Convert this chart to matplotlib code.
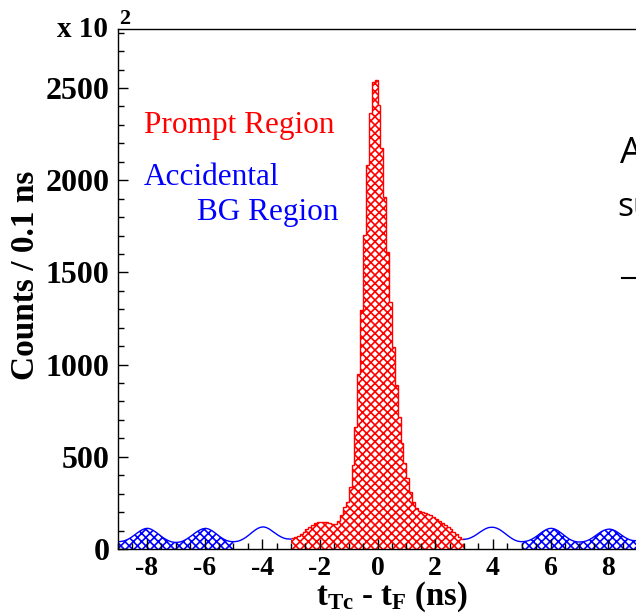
import numpy as np
import matplotlib
matplotlib.use("Agg")
import matplotlib.pyplot as plt
from matplotlib.lines import Line2D

plt.rcParams["font.family"] = ["Liberation Serif", "DejaVu Serif"]
plt.rcParams["axes.unicode_minus"] = False
plt.rcParams["mathtext.fontset"] = "custom"
plt.rcParams["mathtext.rm"] = "Liberation Serif:bold"
plt.rcParams["mathtext.it"] = "Liberation Serif:bold"
plt.rcParams["mathtext.bf"] = "Liberation Serif:bold"
plt.rcParams["hatch.linewidth"] = 1.2

# Zaehlraten pro 0.1 ns Bin
# Untergrund links: -9 ... -3 ns
bg_left = [40, 42, 46, 53, 62, 73, 85, 96, 105, 111, 112, 107, 98, 87, 75, 63, 53, 45, 39, 36,
           36, 38, 43, 51, 61, 72, 84, 95, 104, 110, 112, 108, 100, 89, 77, 65, 55, 47, 42, 40,
           40, 42, 47, 55, 65, 77, 90, 102, 112, 118, 120, 116, 108, 97, 86, 75, 66, 59, 55, 54]
# Prompt-Bereich: -3 ... 3 ns
prompt = [58, 64, 72, 82, 94, 106, 118, 130, 140, 146,
          148, 147, 144, 140, 137, 138, 150, 184, 229, 256,
          338, 455, 663, 949, 1296, 1703, 2082, 2366, 2535, 2543,
          2408, 2173, 1911, 1611, 1341, 1095, 890, 717, 573, 465,
          383, 311, 256, 220, 208, 203, 197, 190, 182, 173,
          164, 153, 142, 130, 118, 106, 94, 80, 66, 55]
# Untergrund rechts: 3 ... 9 ns
bg_right = [53, 56, 62, 70, 80, 91, 101, 110, 116, 118, 117, 112, 104, 93, 81, 69, 58, 49, 43, 40,
            40, 42, 46, 53, 62, 73, 85, 96, 105, 111, 112, 108, 100, 89, 77, 65, 54, 46, 41, 38,
            38, 40, 44, 51, 60, 71, 82, 93, 101, 106, 108, 105, 98, 88, 77, 66, 57, 50, 46, 45]

edges_left = np.linspace(-9, -3, 61)
edges_prompt = np.linspace(-3, 3, 61)
edges_right = np.linspace(3, 9, 61)

y_ticks = [0, 500, 1000, 1500, 2000, 2500]
x_ticks = [-8, -6, -4, -2, 0, 2, 4, 6, 8]

fig = plt.figure(figsize=(6.36, 6.13), dpi=100)
W, H = 636, 613
ax = fig.add_axes([118 / W, 64 / H, 519 / W, 520 / H])


def bg_curve(values, edges):
    centers = 0.5 * (edges[:-1] + edges[1:])
    x = np.concatenate([[edges[0]], centers, [edges[-1]]])
    y = np.concatenate([[values[0]], values, [values[-1]]])
    return x, y


def bg_fill(x, y, lo, hi):
    m = (x >= lo) & (x <= hi)
    xs = np.concatenate([[lo], x[m], [hi]])
    ys = np.concatenate([[np.interp(lo, x, y)], y[m], [np.interp(hi, x, y)]])
    ax.fill_between(xs, ys, 0, facecolor="none", edgecolor="#0000ff",
                    hatch="xxxx", linewidth=0)


xl, yl = bg_curve(np.array(bg_left, float), edges_left)
xr, yr = bg_curve(np.array(bg_right, float), edges_right)

# Accidental BG Bereiche schraffiert
bg_fill(xl, yl, -9, -5)
bg_fill(xr, yr, 5, 9)
ax.plot(xl, yl, color="#0000ff", lw=1.0)
ax.plot(xr, yr, color="#0000ff", lw=1.0)

# Prompt-Bereich
p = np.array(prompt, float)
ax.fill_between(edges_prompt, np.append(p, p[-1]), 0, step="post",
                facecolor="none", edgecolor="#ff0000", hatch="xxxx", linewidth=0)
ax.stairs(p, edges_prompt, color="#ff0000", lw=1.0, baseline=None)

ax.set_xlim(-9, 9)
ax.set_ylim(0, 2820)
ax.set_xticks(x_ticks)
ax.set_xticklabels([str(v) for v in x_ticks])
ax.set_xticks(np.arange(-9, 9.01, 0.5), minor=True)
ax.set_yticks(y_ticks)
ax.set_yticklabels([str(v) for v in y_ticks])
ax.set_yticks(np.arange(0, 2801, 100), minor=True)

ax.tick_params(which="both", direction="in", top=False, right=False, width=1.0)
ax.tick_params(which="major", length=7.5)
ax.tick_params(which="minor", length=4)
ax.tick_params(axis="y", labelsize=23, pad=6)
ax.tick_params(axis="x", labelsize=20, pad=5)
for lab in ax.get_xticklabels() + ax.get_yticklabels():
    lab.set_fontweight("bold")
for s in ax.spines.values():
    s.set_linewidth(1.0)

# Achsentitel
fig.text(26 / W, 1 - 275 / H, "Counts / 0.1 ns", rotation=90, ha="center", va="center",
         fontsize=24, fontweight="bold")
fig.text(392 / W, 1 - 605 / H, r"t$_{\rm Tc}$ - t$_{\rm F}$ (ns)", ha="center", va="baseline",
         fontsize=23.5, fontweight="bold")
fig.text(108 / W, 1 - 37 / H, "x 10", ha="right", va="baseline", fontsize=21, fontweight="bold")
fig.text(119 / W, 1 - 24 / H, "2", ha="left", va="baseline", fontsize=16, fontweight="bold")

# Beschriftungen
fig.text(144 / W, 1 - 133 / H, "Prompt Region", color="#ff0000", fontsize=22.5, va="baseline")
fig.text(144 / W, 1 - 185 / H, "Accidental", color="#0000ff", fontsize=22.5, va="baseline")
fig.text(197 / W, 1 - 220 / H, "BG Region", color="#0000ff", fontsize=22.5, va="baseline")

# abgeschnittene Legende rechts
fig.text(620 / W, 1 - 163 / H, "All", fontsize=26, va="baseline", family="Open Sans")
fig.text(617 / W, 1 - 216 / H, "sum", fontsize=24, va="baseline", family="Open Sans")
fig.add_artist(Line2D([622 / W, 1.0], [1 - 278 / H, 1 - 278 / H], color="black", lw=1.5,
                      transform=fig.transFigure))

fig.savefig("out.png", dpi=100)
